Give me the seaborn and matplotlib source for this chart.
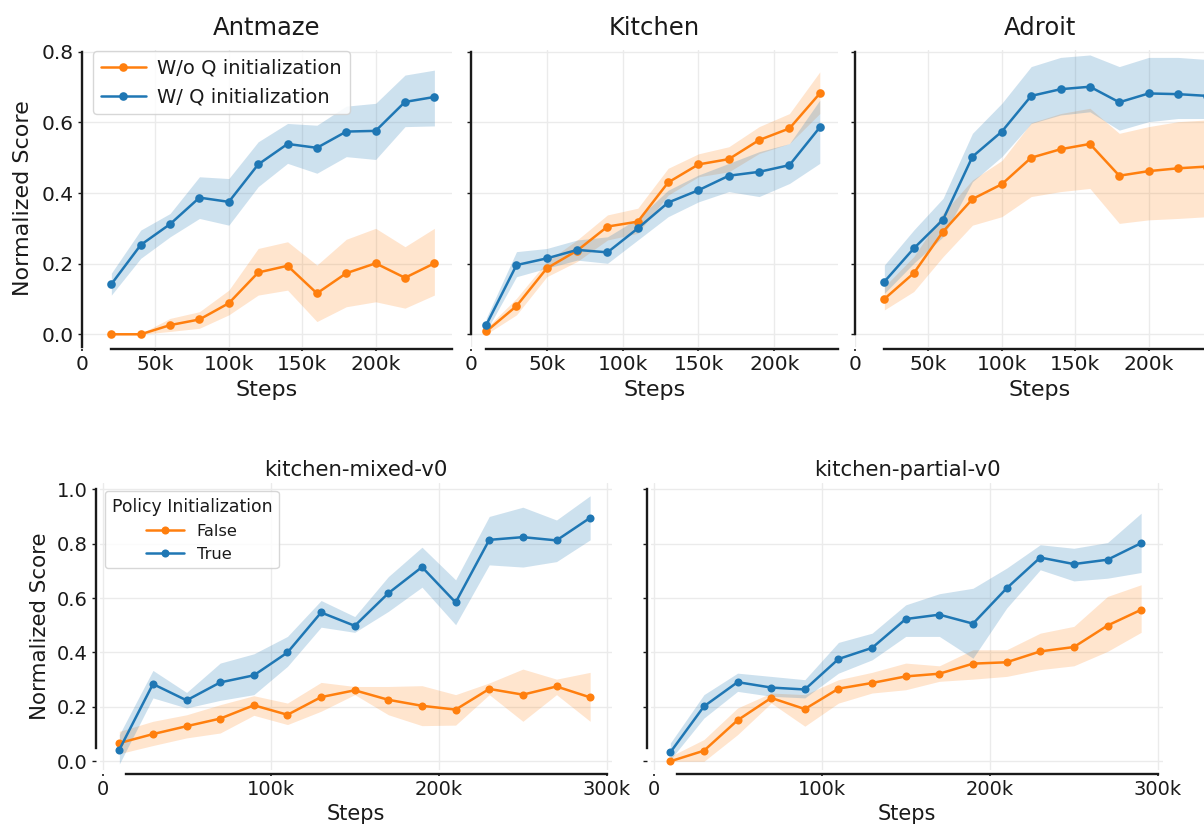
import matplotlib
matplotlib.use("Agg")
import matplotlib.pyplot as plt
import pandas as pd
import seaborn as sns

# ---------------------------------------------------------------- data
# Top row: Q-initialization ablation (mean score with confidence band)
ANT_STEPS = [20000, 40000, 60000, 80000, 100000, 120000, 140000, 160000, 180000, 200000, 220000, 240000]
ANT_WO = [0.000, 0.000, 0.026, 0.042, 0.088, 0.175, 0.194, 0.116, 0.173, 0.201, 0.160, 0.201]
ANT_WO_LO = [0.000, 0.000, 0.008, 0.017, 0.055, 0.111, 0.125, 0.036, 0.078, 0.092, 0.074, 0.111]
ANT_WO_HI = [0.000, 0.002, 0.045, 0.064, 0.125, 0.243, 0.262, 0.196, 0.269, 0.300, 0.248, 0.300]
ANT_W = [0.142, 0.253, 0.312, 0.387, 0.375, 0.481, 0.539, 0.528, 0.574, 0.576, 0.658, 0.672]
ANT_W_LO = [0.111, 0.215, 0.276, 0.328, 0.309, 0.418, 0.484, 0.456, 0.503, 0.495, 0.588, 0.590]
ANT_W_HI = [0.173, 0.295, 0.342, 0.446, 0.441, 0.545, 0.597, 0.592, 0.646, 0.654, 0.734, 0.748]

KIT_STEPS = [10000, 30000, 50000, 70000, 90000, 110000, 130000, 150000, 170000, 190000, 210000, 230000]
KIT_WO = [0.008, 0.080, 0.187, 0.237, 0.305, 0.319, 0.430, 0.481, 0.496, 0.550, 0.583, 0.682]
KIT_WO_LO = [0.000, 0.055, 0.163, 0.206, 0.267, 0.286, 0.394, 0.446, 0.460, 0.512, 0.540, 0.625]
KIT_WO_HI = [0.017, 0.102, 0.206, 0.267, 0.338, 0.357, 0.470, 0.511, 0.531, 0.588, 0.625, 0.743]
KIT_W = [0.026, 0.196, 0.215, 0.239, 0.232, 0.300, 0.373, 0.408, 0.449, 0.460, 0.479, 0.586]
KIT_W_LO = [0.008, 0.163, 0.187, 0.210, 0.201, 0.267, 0.333, 0.375, 0.404, 0.390, 0.427, 0.484]
KIT_W_HI = [0.045, 0.234, 0.243, 0.267, 0.276, 0.328, 0.408, 0.451, 0.484, 0.517, 0.540, 0.663]

ADR_STEPS = [20000, 40000, 60000, 80000, 100000, 120000, 140000, 160000, 180000, 200000, 220000, 240000]
ADR_WO = [0.100, 0.173, 0.291, 0.383, 0.425, 0.500, 0.524, 0.539, 0.449, 0.462, 0.470, 0.475]
ADR_WO_LO = [0.069, 0.121, 0.220, 0.309, 0.333, 0.390, 0.404, 0.413, 0.314, 0.324, 0.328, 0.333]
ADR_WO_HI = [0.135, 0.220, 0.343, 0.437, 0.492, 0.599, 0.625, 0.640, 0.569, 0.588, 0.602, 0.607]
ADR_W = [0.149, 0.243, 0.325, 0.503, 0.574, 0.675, 0.694, 0.701, 0.657, 0.682, 0.680, 0.675]
ADR_W_LO = [0.116, 0.201, 0.276, 0.432, 0.503, 0.597, 0.621, 0.630, 0.578, 0.602, 0.611, 0.611]
ADR_W_HI = [0.196, 0.295, 0.385, 0.569, 0.654, 0.758, 0.784, 0.791, 0.758, 0.784, 0.784, 0.778]

TOP_LABELS = ["W/o Q initialization", "W/ Q initialization"]

# Bottom row: policy-initialization ablation on two kitchen tasks
D4RL_STEPS = [10000, 30000, 50000, 70000, 90000, 110000, 130000, 150000,
              170000, 190000, 210000, 230000, 250000, 270000, 290000]
MIX_F = [0.067, 0.100, 0.129, 0.157, 0.206, 0.171, 0.236, 0.261, 0.226, 0.204, 0.190, 0.266, 0.245, 0.275, 0.235]
MIX_F_LO = [0.028, 0.058, 0.086, 0.104, 0.169, 0.135, 0.184, 0.245, 0.171, 0.131, 0.133, 0.245, 0.147, 0.245, 0.147]
MIX_F_HI = [0.110, 0.147, 0.171, 0.208, 0.241, 0.214, 0.290, 0.275, 0.275, 0.278, 0.245, 0.288, 0.339, 0.302, 0.327]
MIX_T = [0.043, 0.284, 0.224, 0.290, 0.316, 0.400, 0.547, 0.498, 0.618, 0.714, 0.584, 0.814, 0.824, 0.812, 0.895]
MIX_T_LO = [-0.010, 0.233, 0.196, 0.224, 0.245, 0.349, 0.493, 0.474, 0.551, 0.640, 0.502, 0.722, 0.714, 0.734, 0.814]
MIX_T_HI = [0.098, 0.334, 0.253, 0.361, 0.395, 0.459, 0.591, 0.532, 0.679, 0.787, 0.667, 0.900, 0.934, 0.887, 0.976]

PAR_F = [0.000, 0.039, 0.151, 0.233, 0.192, 0.267, 0.288, 0.312, 0.322, 0.359, 0.364, 0.404, 0.420, 0.499, 0.557]
PAR_F_LO = [0.000, 0.000, 0.098, 0.214, 0.129, 0.214, 0.251, 0.263, 0.294, 0.302, 0.312, 0.337, 0.351, 0.404, 0.474]
PAR_F_HI = [0.018, 0.080, 0.196, 0.251, 0.245, 0.300, 0.327, 0.361, 0.351, 0.410, 0.410, 0.471, 0.496, 0.606, 0.649]
PAR_T = [0.033, 0.202, 0.291, 0.271, 0.264, 0.376, 0.417, 0.523, 0.539, 0.506, 0.636, 0.749, 0.725, 0.741, 0.802]
PAR_T_LO = [0.006, 0.159, 0.257, 0.239, 0.233, 0.324, 0.373, 0.459, 0.459, 0.379, 0.563, 0.704, 0.663, 0.673, 0.694]
PAR_T_HI = [0.067, 0.245, 0.324, 0.312, 0.300, 0.437, 0.471, 0.575, 0.616, 0.636, 0.710, 0.796, 0.783, 0.804, 0.912]

BOTTOM_LABELS = ["False", "True"]
BOTTOM_LEGEND_TITLE = "Policy Initialization"

TOP_XTICKS = [0, 50000, 100000, 150000, 200000]
TOP_XTICKLABELS = ["0", "50k", "100k", "150k", "200k"]
TOP_YTICKS = [0.0, 0.2, 0.4, 0.6, 0.8]
BOTTOM_XTICKS = [0, 100000, 200000, 300000]
BOTTOM_XTICKLABELS = ["0", "100k", "200k", "300k"]
BOTTOM_YTICKS = [0.0, 0.2, 0.4, 0.6, 0.8, 1.0]

ORANGE = "#ff7f0e"
BLUE = "#1f77b4"

# ---------------------------------------------------------------- style
sns.set_theme(style="whitegrid")
plt.rcParams.update({
    "font.family": ["DejaVu Sans"],
    "grid.color": "#ebebeb",
    "grid.linewidth": 1.0,
    "axes.edgecolor": "#1a1a1a",
    "text.color": "#1a1a1a",
    "axes.labelcolor": "#1a1a1a",
    "xtick.color": "#1a1a1a",
    "ytick.color": "#1a1a1a",
})

W, H = 1204, 827
fig = plt.figure(figsize=(W / 100, H / 100), dpi=100)


def add_axes_px(left, top, right, bottom):
    return fig.add_axes([left / W, 1 - bottom / H, (right - left) / W, (bottom - top) / H])


def draw_panel(ax, steps, series, labels, lw, ms, alphas=(0.2, 0.22)):
    frames = []
    for (mean, lo, hi), lab in zip(series, labels):
        frames.append(pd.DataFrame({"step": steps, "score": mean, "group": lab}))
    df = pd.concat(frames, ignore_index=True)
    for (mean, lo, hi), color, a in zip(series, (ORANGE, BLUE), alphas):
        ax.fill_between(steps, lo, hi, color=color, alpha=a, linewidth=0)
    sns.lineplot(data=df, x="step", y="score", hue="group", hue_order=labels,
                 palette=[ORANGE, BLUE], marker="o", markersize=ms,
                 markeredgewidth=0, linewidth=lw, errorbar=None, ax=ax)
    legend = ax.get_legend()
    handles = list(legend.legend_handles)
    legend.remove()
    return handles


def style_axes(ax, xticks, xticklabels, yticks, tick_fs, spine_lw, xspine_bounds,
               yspine_bounds, x_off, y_off, show_ylabels):
    sns.despine(ax=ax)
    ax.set_xticks(xticks)
    ax.set_xticklabels(xticklabels)
    ax.set_yticks(yticks)
    ax.tick_params(axis="both", labelsize=tick_fs, pad=3)
    ax.tick_params(axis="y", length=3, width=1.0, left=True, labelleft=show_ylabels)
    ax.tick_params(axis="x", length=1.5, width=1.2, bottom=True)
    for side in ("left", "bottom"):
        ax.spines[side].set_linewidth(spine_lw)
        ax.spines[side].set_color("#1a1a1a")
    ax.spines["bottom"].set_position(("outward", x_off))
    ax.spines["left"].set_position(("outward", y_off))
    ax.spines["bottom"].set_bounds(*xspine_bounds)
    ax.spines["left"].set_bounds(*yspine_bounds)
    ax.grid(True)


# ---------------------------------------------------------------- top row
top_panels = [
    ("Antmaze", (82, 50, 452, 347), ANT_STEPS,
     [(ANT_WO, ANT_WO_LO, ANT_WO_HI), (ANT_W, ANT_W_LO, ANT_W_HI)], 252000, (-0.036, 0.8)),
    ("Kitchen", (471, 50, 838, 347), KIT_STEPS,
     [(KIT_WO, KIT_WO_LO, KIT_WO_HI), (KIT_W, KIT_W_LO, KIT_W_HI)], 242000, (0.0, 0.8)),
    ("Adroit", (855, 50, 1225, 347), ADR_STEPS,
     [(ADR_WO, ADR_WO_LO, ADR_WO_HI), (ADR_W, ADR_W_LO, ADR_W_HI)], 252000, (0.0, 0.8)),
]

for i, (title, box, steps, series, xmax, ybounds) in enumerate(top_panels):
    ax = add_axes_px(*box)
    handles = draw_panel(ax, steps, series, TOP_LABELS, lw=1.8, ms=6.2)
    ax.set_xlim(0, xmax)
    ax.set_ylim(-0.036, 0.805)
    style_axes(ax, TOP_XTICKS, TOP_XTICKLABELS, TOP_YTICKS, 14.5, 1.7,
               (steps[0], xmax), ybounds, 1.5, 0, show_ylabels=(i == 0))
    ax.set_title(title, fontsize=17.5, pad=11)
    ax.set_xlabel("Steps", fontsize=16, labelpad=4)
    if i == 0:
        ax.set_ylabel("Normalized Score", fontsize=16, labelpad=6)
        ax.legend(handles, TOP_LABELS, loc="upper left",
                  bbox_to_anchor=(11 / 370, 1 - 1 / 297), borderaxespad=0,
                  fontsize=14, handlelength=2.3, handletextpad=0.6,
                  frameon=True, edgecolor="#d0d0d0", framealpha=0.85)
    else:
        ax.set_ylabel("")

# ---------------------------------------------------------------- bottom row
bottom_panels = [
    ("kitchen-mixed-v0", (100, 483, 612, 770),
     [(MIX_F, MIX_F_LO, MIX_F_HI), (MIX_T, MIX_T_LO, MIX_T_HI)]),
    ("kitchen-partial-v0", (651, 483, 1163, 770),
     [(PAR_F, PAR_F_LO, PAR_F_HI), (PAR_T, PAR_T_LO, PAR_T_HI)]),
]

for i, (title, box, series) in enumerate(bottom_panels):
    ax = add_axes_px(*box)
    handles = draw_panel(ax, D4RL_STEPS, series, BOTTOM_LABELS, lw=1.8, ms=5.8)
    ax.set_xlim(-1500, 303000)
    ax.set_ylim(-0.032, 1.023)
    style_axes(ax, BOTTOM_XTICKS, BOTTOM_XTICKLABELS, BOTTOM_YTICKS, 14, 1.7,
               (14000, 300000), (0.05, 1.0), 3, 3, show_ylabels=(i == 0))
    ax.set_title(title, fontsize=15.3, pad=5)
    ax.set_xlabel("Steps", fontsize=15, labelpad=3)
    if i == 0:
        ax.set_ylabel("Normalized Score", fontsize=15.4, labelpad=5)
        ax.legend(handles, BOTTOM_LABELS, title=BOTTOM_LEGEND_TITLE,
                  loc="upper left", bbox_to_anchor=(5 / 512, 1 - 8 / 287),
                  borderaxespad=0, fontsize=11.7, title_fontsize=12.4,
                  handlelength=2.3, frameon=True, edgecolor="#d0d0d0",
                  framealpha=0.85)
    else:
        ax.set_ylabel("")

fig.savefig("out.png", dpi=100)
